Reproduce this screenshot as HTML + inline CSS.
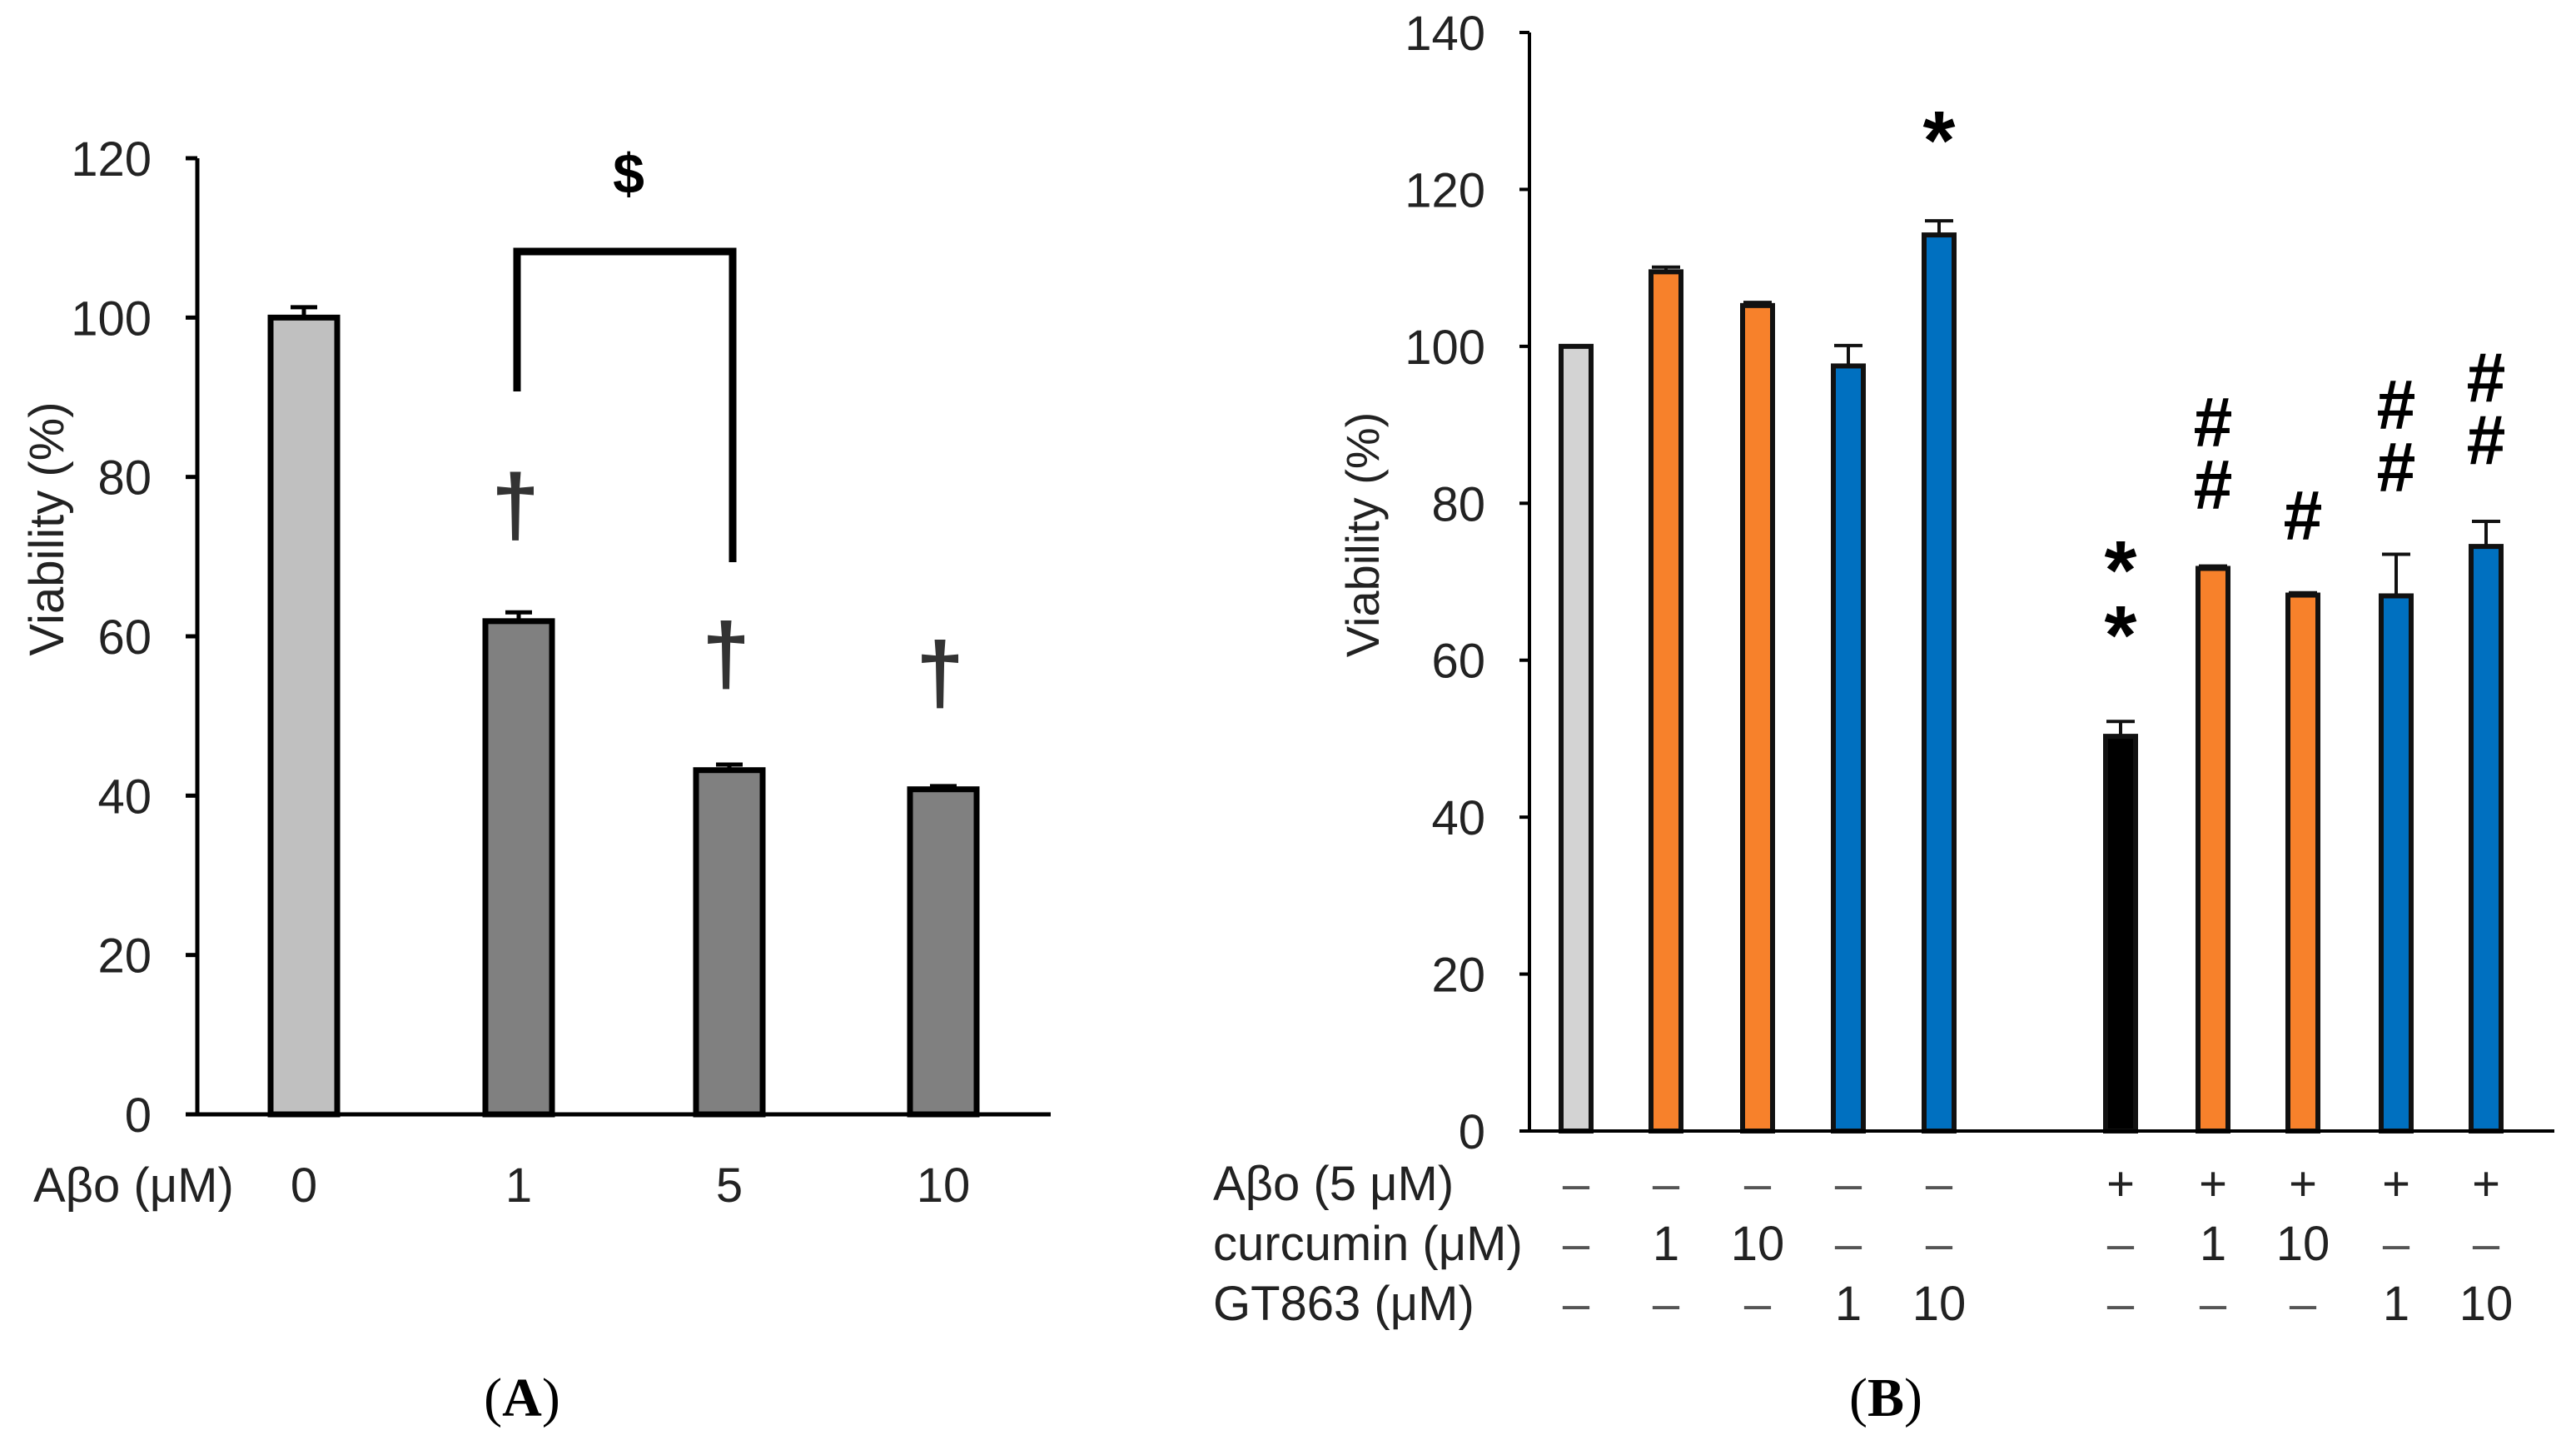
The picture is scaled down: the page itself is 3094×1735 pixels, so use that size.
<!DOCTYPE html>
<html><head><meta charset="utf-8">
<style>
html,body{margin:0;padding:0;background:#fff;}
svg{display:block;}
text{font-family:"Liberation Sans",Arial,sans-serif;}
text.serif{font-family:"Liberation Serif","Times New Roman",serif;}
</style></head>
<body>
<svg id="fig" width="3094" height="1735" viewBox="0 0 3094 1735" xmlns="http://www.w3.org/2000/svg">
<g id="panelA"></g>
<g id="panelB"></g>
<text class="serif" x="627" y="1700" text-anchor="middle" font-size="66" fill="#000">(<tspan font-weight="bold">A</tspan>)</text>
<text class="serif" x="2265" y="1700" text-anchor="middle" font-size="66" fill="#000">(<tspan font-weight="bold">B</tspan>)</text>
</svg>
<script>
// ---------- Panel A data ----------
const catsA = ["0", "1", "5", "10"];
const valsA = [100, 61.9, 43.2, 40.8];
const errA = [1.3, 1.1, 0.7, 0.4];
const colorsA = ["#c0c0c0", "#808080", "#808080", "#808080"];
const ticksA = [0, 20, 40, 60, 80, 100, 120];
const daggerA = [false, true, true, true];
// ---------- Panel B data ----------
const valsB = [100, 109.5, 105.2, 97.5, 114.2, 50.3, 71.7, 68.3, 68.2, 74.5];
const errB = [0, 0.6, 0.4, 2.6, 1.8, 1.9, 0.3, 0.3, 5.3, 3.2];
const colorsB = ["#d3d3d3", "#f7812b", "#f7812b", "#0070c0", "#0070c0", "#000000", "#f7812b", "#f7812b", "#0070c0", "#0070c0"];
const rowAbo = ["–", "–", "–", "–", "–", "+", "+", "+", "+", "+"];
const rowCur = ["–", "1", "10", "–", "–", "–", "1", "10", "–", "–"];
const rowGT = ["–", "–", "–", "1", "10", "–", "–", "–", "1", "10"];
const sigB = ["", "", "", "", "*", "**", "##", "#", "##", "##"];
const ticksB = [0, 20, 40, 60, 80, 100, 120, 140];

const NS = "http://www.w3.org/2000/svg";
function mk(parent, tag, attrs, txt) {
  const e = document.createElementNS(NS, tag);
  for (const k in attrs) e.setAttribute(k, attrs[k]);
  if (txt !== undefined) e.textContent = txt;
  parent.appendChild(e);
  return e;
}

// ---------- Panel A ----------
(function () {
  const g = document.getElementById("panelA");
  const x0 = 237, yZero = 1338, yTop = 190, xEnd = 1262;
  const y = v => yZero - (v / 120) * (yZero - yTop);
  const xc = i => [365, 623, 876, 1133][i];
  ticksA.forEach(t => {
    const tl = mk(g, "line", { x1: x0 - 14, x2: x0, y1: y(t), y2: y(t), stroke: "#000", "stroke-width": 5 });
    
    
    const tx = mk(g, "text", { x: 182, y: y(t) + 21, "text-anchor": "end", "font-size": 58, fill: "#222" }, String(t));
    
    
  });
  valsA.forEach((v, i) => {
    const w = 80;
    const top = y(v);
    const eb = mk(g, "path", { d: `M${xc(i)} ${top} V${y(v + errA[i])} M${xc(i) - 16} ${y(v + errA[i])} H${xc(i) + 16}`, stroke: "#000", "stroke-width": 5, fill: "none" });
    
    
    const r = mk(g, "rect", { x: xc(i) - w / 2, y: top, width: w, height: yZero - top, fill: colorsA[i], stroke: "#000", "stroke-width": 7 });
    
    
    const lab = mk(g, "text", { x: xc(i), y: 1443, "text-anchor": "middle", "font-size": 58, fill: "#222" }, catsA[i]);
    
    
    if (daggerA[i]) {
      const d = mk(g, "text", { x: xc(i) - 4, y: y(v) - 104, "text-anchor": "middle", "font-size": 104, "font-weight": "bold", fill: "#333" }, "†");
      
      
    }
  });
  const ax = mk(g, "path", { d: `M${x0} ${yTop} V${yZero} H${xEnd}`, stroke: "#000", "stroke-width": 5, fill: "none" });
  
  
  const br = mk(g, "path", { d: "M621 470 V302 H880 V675", stroke: "#000", "stroke-width": 9, fill: "none" });
  
  
  const dl = mk(g, "text", { x: 755, y: 232, "text-anchor": "middle", "font-size": 68, "font-weight": "bold", fill: "#000" }, "$");
  
  
  const xl = mk(g, "text", { x: 40, y: 1443, "font-size": 58, fill: "#222" }, "Aβo (μM)");
  
  
  const yl = mk(g, "text", { x: 0, y: 0, "text-anchor": "middle", "font-size": 58, fill: "#222", transform: "translate(76 635) rotate(-90)" }, "Viability (%)");
  
  
})();

// ---------- Panel B ----------
(function () {
  const g = document.getElementById("panelB");
  const x0 = 1837, yZero = 1358, yTop = 39, xEnd = 3068;
  const y = v => yZero - (v / 140) * (yZero - yTop);
  const centers = [1893, 2001, 2111, 2220, 2329, 2547, 2658, 2766, 2878, 2986];
  ticksB.forEach(t => {
    const tl = mk(g, "line", { x1: x0 - 12, x2: x0, y1: y(t), y2: y(t), stroke: "#000", "stroke-width": 4 });
    
    
    const tx = mk(g, "text", { x: 1784, y: y(t) + 21, "text-anchor": "end", "font-size": 58, fill: "#222" }, String(t));
    
    
  });
  valsB.forEach((v, i) => {
    const c = centers[i], w = 36, top = y(v);
    if (errB[i] > 0) {
      const eb = mk(g, "path", { d: `M${c} ${top} V${y(v + errB[i])} M${c - 17} ${y(v + errB[i])} H${c + 17}`, stroke: "#111", "stroke-width": 4, fill: "none" });
      
      
    }
    const r = mk(g, "rect", { x: c - w / 2, y: top, width: w, height: yZero - top, fill: colorsB[i], stroke: "#111", "stroke-width": 6 });
    
    
    const rows = [rowAbo, rowCur, rowGT], ry = [1441, 1513, 1585];
    rows.forEach((row, k) => {
      const t = mk(g, "text", { x: c, y: ry[k], "text-anchor": "middle", "font-size": 58, fill: row[i] === "–" ? "#555" : "#222" }, row[i]);
      
      
    });
    const s = sigB[i];
    if (s) {
      const ch = s.split("");
      const isStar = ch[0] === "*";
      const step = isStar ? 78 : 75;
      const topRef = y(v + errB[i]);
      const gap = isStar ? (i === 4 ? 116 : 123) : (i === 7 ? 93 : (i === 8 ? 105 : 98));
      ch.forEach((cc, k) => {
        const cy = topRef - gap - (ch.length - 1 - k) * step;
        const by = isStar ? cy + 54 : cy + 29;
        const m = mk(g, "text", { x: c, y: by, "text-anchor": "middle", "font-size": isStar ? 100 : 84, "font-weight": "bold", fill: "#000" }, cc);
        
        
      });
    }
  });
  const ax = mk(g, "path", { d: `M${x0} ${yTop} V${yZero} H${xEnd}`, stroke: "#000", "stroke-width": 4, fill: "none" });
  
  
  const labels = ["Aβo (5 μM)", "curcumin (μM)", "GT863 (μM)"], ly = [1441, 1513, 1585];
  labels.forEach((l, k) => {
    const t = mk(g, "text", { x: 1457, y: ly[k], "font-size": 58, fill: "#222" }, l);
    
    
  });
  const yl = mk(g, "text", { x: 0, y: 0, "text-anchor": "middle", "font-size": 56, fill: "#222", transform: "translate(1656 642) rotate(-90)" }, "Viability (%)");
  
  
})();
</script>
</body></html>
